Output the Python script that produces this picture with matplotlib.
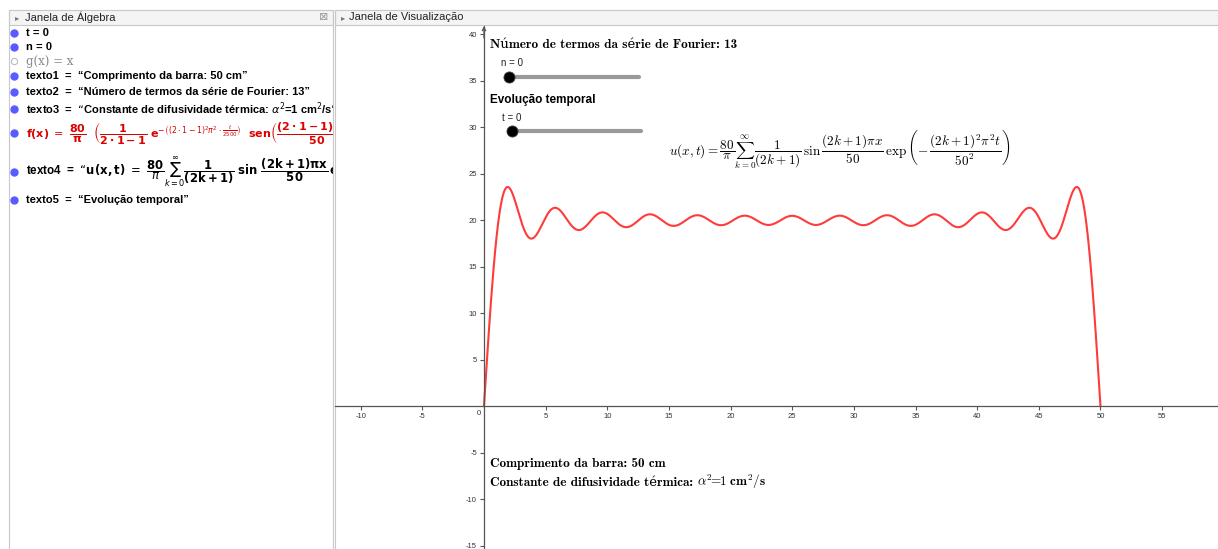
import numpy as np
import matplotlib
matplotlib.use("Agg")
import matplotlib.pyplot as plt
from matplotlib.patches import Rectangle

W, H = 1218, 549

# ---------------- data ----------------
bar_length = 50                      # cm
n_terms = 13
harmonics = [1, 3, 5, 7, 9, 11, 13, 15, 17, 19, 21, 23, 25]
amplitudes = [25.465, 8.488, 5.093, 3.638, 2.829, 2.315, 1.959,
              1.698, 1.498, 1.340, 1.213, 1.107, 1.019]
x_ticks = [-10, -5, 5, 10, 15, 20, 25, 30, 35, 40, 45, 50, 55]
y_ticks = [-15, -10, -5, 5, 10, 15, 20, 25, 30, 35, 40]
slider_n_value = 0
slider_t_value = 0

x = np.linspace(0, bar_length, 2000)
u = np.zeros_like(x)
for k, a in zip(harmonics, amplitudes):
    u += a * np.sin(k * np.pi * x / bar_length)

fig = plt.figure(figsize=(W / 100, H / 100), dpi=100)
fig.patch.set_facecolor("white")

# ---------------- background / window chrome ----------------
bg = fig.add_axes([0, 0, 1, 1], zorder=0)
bg.set_xlim(0, W)
bg.set_ylim(H, 0)
bg.axis("off")
hdr_col = "#f4f4f4"
line_col = "#c8c8c8"
bg.add_patch(Rectangle((9, 10), 324, 15, facecolor=hdr_col, edgecolor=line_col, lw=0.8))
bg.add_patch(Rectangle((335, 10), W - 335, 15, facecolor=hdr_col, edgecolor=line_col, lw=0.8))
bg.plot([9, 9], [10, H], color=line_col, lw=0.8)
bg.plot([333, 333], [10, H], color=line_col, lw=0.8)
bg.plot([335, 335], [10, H], color=line_col, lw=0.8)
bg.text(15, 17.5, "\u25B8", fontsize=6, color="#777777", va="center", ha="left")
bg.text(25, 17.5, "Janela de Álgebra", fontsize=8, color="#222222", va="center",
        ha="left", family="Liberation Sans")
bg.text(324, 16.5, "\u22A0", fontsize=8, color="#999999", va="center", ha="center")
bg.text(341, 17.5, "\u25B8", fontsize=6, color="#777777", va="center", ha="left")
bg.text(349, 17.5, "Janela de Visualização", fontsize=8, color="#222222", va="center",
        ha="left", family="Liberation Sans")

# ---------------- algebra panel ----------------
alg = fig.add_axes([10 / W, 0, (333 - 10) / W, (H - 26) / H], zorder=1)
alg.set_xlim(10, 333)
alg.set_ylim(H, 26)
alg.axis("off")
blue = "#5a5aff"
red = "#dd0000"
rows = [33, 47, 61, 76, 92, 109, 133, 172, 200]
for i, yy in enumerate(rows):
    if i == 2:
        alg.plot(14, yy, "o", ms=4.5, mfc="white", mec="#bbbbbb", mew=0.8)
    else:
        alg.plot(14, yy, "o", ms=5, color=blue)

kw = dict(va="center", ha="left", fontsize=8, fontweight="bold",
          family=["Liberation Sans", "DejaVu Sans"], clip_on=True,
          math_fontfamily="dejavusans")
alg.text(26, rows[0], "t = 0", **kw)
alg.text(26, rows[1], "n = 0", **kw)
alg.text(26, rows[2], "g(x) = x", va="center", ha="left", fontsize=8.5,
         family="DejaVu Serif", color="#888888", clip_on=True)
alg.text(26, rows[3], "texto1  =  \u201cComprimento da barra: 50 cm\u201d", **kw)
alg.text(26, rows[4], "texto2  =  \u201cNúmero de termos da série de Fourier: 13\u201d", **kw)
alg.text(26, rows[5], "texto3  =  \u201cConstante de difusividade térmica: $\\alpha^2$=1 cm$^2$/s\u201d", **kw)
kw_red = dict(kw)
kw_red["color"] = red
alg.text(26, rows[6],
         r"$\mathbf{f(x)}\ =\ \dfrac{\mathbf{80}}{\mathbf{\pi}}\ \ \left(\dfrac{\mathbf{1}}{\mathbf{2\cdot 1-1}}\ "
         r"\mathbf{e}^{-\left((2\cdot 1-1)^2\pi^2\cdot\frac{t}{2500}\right)}\ \ \mathbf{sen}"
         r"\left(\dfrac{\mathbf{(2\cdot 1-1)\ \pi\ x}}{\mathbf{50}}\right)\right)$", **kw_red)
kw4 = dict(kw)
kw4["fontsize"] = 8.4
alg.text(26, rows[7],
         "texto4  =  \u201c" +
         r"$\mathbf{u(x,t)}\ =\ \dfrac{\mathbf{80}}{\pi}\sum_{k=0}^{\infty}\dfrac{\mathbf{1}}{\mathbf{(2k+1)}}"
         r"\ \mathbf{sin}\ \dfrac{\mathbf{(2k+1)\pi x}}{\mathbf{50}}\,\mathbf{exp}\left(-\dfrac{(2k+1)^2\pi^2 t}{50^2}\right)$",
         **kw4)
alg.text(26, rows[8], "texto5  =  \u201cEvolução temporal\u201d", **kw)

# ---------------- graphics view ----------------
ax = fig.add_axes([335 / W, 0, (W - 335) / W, (H - 26) / H], zorder=2)
ax.set_facecolor("none")
ax.set_xlim(-12.08, 59.53)
ax.set_ylim(-15.34, 40.9)
axis_col = "#555555"
for s in ["top", "right"]:
    ax.spines[s].set_visible(False)
ax.spines["left"].set_position(("data", 0))
ax.spines["bottom"].set_position(("data", 0))
for s in ["left", "bottom"]:
    ax.spines[s].set_color(axis_col)
    ax.spines[s].set_linewidth(0.9)
ax.set_xticks(x_ticks)
ax.set_yticks(y_ticks)
ax.set_xticklabels([str(v) for v in x_ticks], family="Liberation Sans")
ax.set_yticklabels([str(v) for v in y_ticks], family="Liberation Sans")
ax.tick_params(axis="both", direction="out", length=3, width=0.8, color=axis_col,
               labelsize=5.5, labelcolor="#333333", pad=2)
ax.annotate("0", xy=(0, 0), xytext=(-2.5, -2.5), textcoords="offset points",
            ha="right", va="top", fontsize=5.5, color="#333333", family="Liberation Sans")
ax.annotate("", xy=(0, 40.9), xytext=(0, 39.6),
            arrowprops=dict(arrowstyle="->", color=axis_col, lw=0.9, shrinkA=0, shrinkB=0,
                            mutation_scale=6), annotation_clip=False)

ax.plot(x, u, color="#ff3b3b", lw=1.5, solid_capstyle="round", clip_on=True)

# ---------------- texts & sliders in graphics view (pixel coords) ----------------
ov = fig.add_axes([0, 0, 1, 1], zorder=3)
ov.set_facecolor("none")
ov.set_xlim(0, W)
ov.set_ylim(H, 0)
ov.axis("off")

serif_b = dict(family=["cmb10", "DejaVu Serif"], fontsize=9.5, color="black",
               ha="left", va="baseline")
ov.text(490, 48, "Número de termos da série de Fourier: %d" % n_terms, **serif_b)
ov.text(490, 467, "Comprimento da barra: %d cm" % bar_length, **serif_b)
t_const = ov.text(490, 486, "Constante de difusividade térmica:", **serif_b)
renderer = fig.canvas.get_renderer()
bb = t_const.get_window_extent(renderer=renderer)
x_end = ov.transData.inverted().transform((bb.x1, bb.y0))[0]
ov.text(x_end + 4, 486, r"$\alpha^2\!\!=\!\!\mathbf{1\ cm}^{\mathbf{2}}\mathbf{/s}$",
        math_fontfamily="cm", fontsize=9.5, color="black", ha="left", va="baseline")
ov.text(490, 100, "Evolução temporal", family="Liberation Sans", fontweight="bold",
        fontsize=8.5, ha="left", va="center")

ov.text(512, 63, "n = %d" % slider_n_value, family="Liberation Sans", fontsize=7,
        color="#222222", ha="center", va="center")
ov.plot([509, 639], [77, 77], color="#9a9a9a", lw=3, solid_capstyle="round")
ov.plot(509, 77, "o", ms=8, mfc="black", mec="#444444", mew=0.6)
ov.text(512, 118, "t = %d" % slider_t_value, family="Liberation Sans", fontsize=7,
        color="#222222", ha="center", va="center")
ov.plot([512, 641], [131, 131], color="#9a9a9a", lw=3, solid_capstyle="round")
ov.plot(512, 131, "o", ms=8, mfc="black", mec="#444444", mew=0.6)

ov.text(840, 150,
        r"$u(x,t)=\dfrac{80}{\pi}\sum_{k=0}^{\infty}\dfrac{1}{(2k+1)}\,\sin\dfrac{(2k+1)\pi x}{50}"
        r"\,\exp\left(-\,\dfrac{(2k+1)^2\pi^2 t}{50^2}\right)$",
        math_fontfamily="cm", fontsize=9.5, ha="center", va="center", color="black")

fig.savefig("out.png", dpi=100)
